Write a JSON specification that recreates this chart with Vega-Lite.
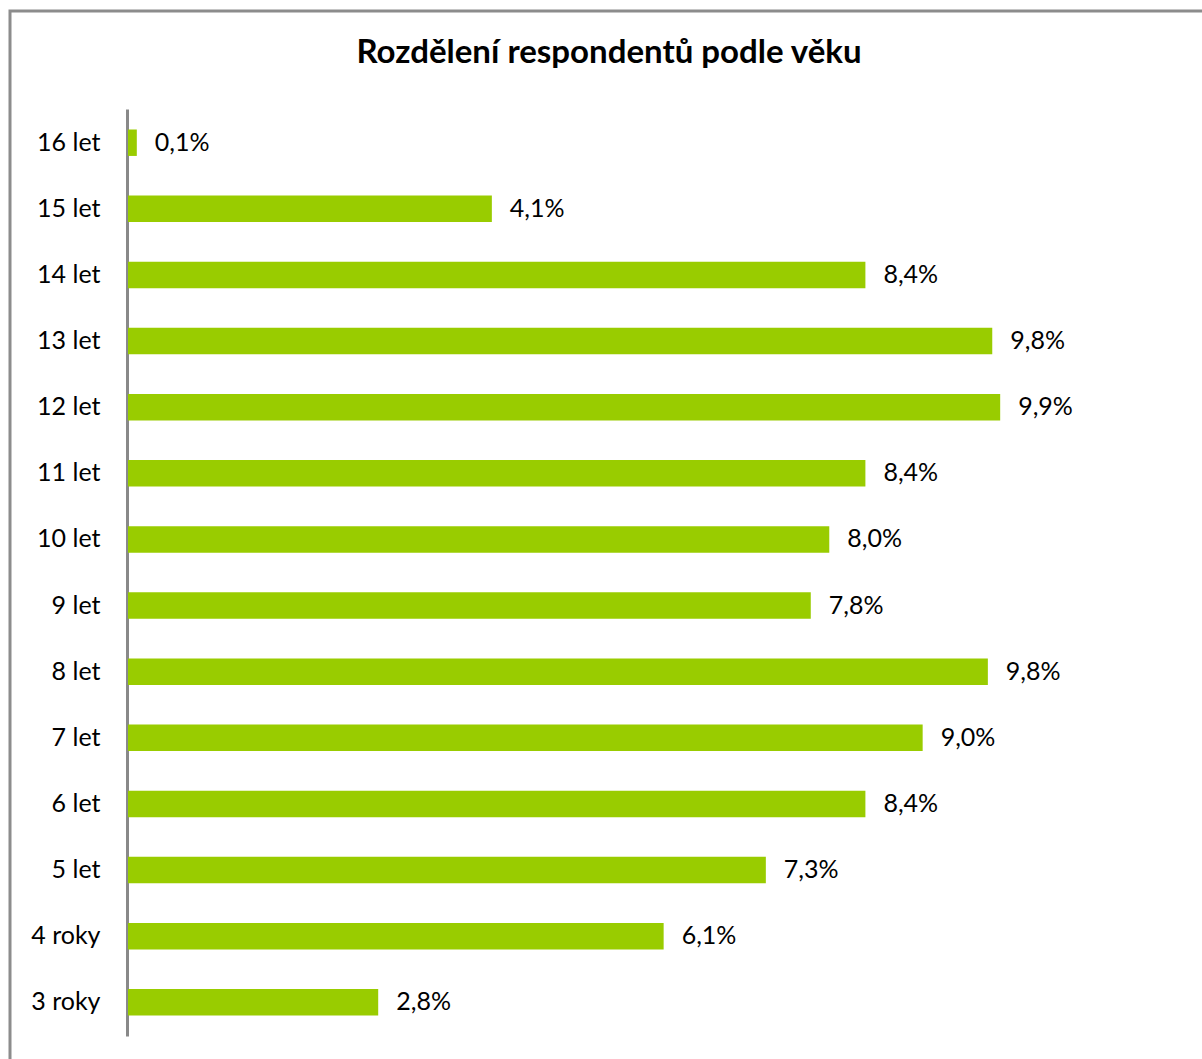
{
  "$schema": "https://vega.github.io/schema/vega-lite/v6.json",
  "width": 1198,
  "height": 1054,
  "autosize": {"type": "none"},
  "padding": {"left": 10, "top": 11, "right": -6, "bottom": -6},
  "background": "white",
  "config": {
    "view": {"stroke": "#8c8c8c", "strokeWidth": 3},
    "font": "Lato"
  },
  "title": {
    "text": "Rozdělení respondentů podle věku",
    "font": "Lato",
    "fontSize": 33,
    "fontWeight": "bold",
    "color": "#000000",
    "anchor": "middle",
    "baseline": "alphabetic",
    "offset": -85
  },
  "data": {
    "values": [
      {"vek": "16 let", "podil": 0.1, "label": "0,1%"},
      {"vek": "15 let", "podil": 4.13, "label": "4,1%"},
      {"vek": "14 let", "podil": 8.37, "label": "8,4%"},
      {"vek": "13 let", "podil": 9.81, "label": "9,8%"},
      {"vek": "12 let", "podil": 9.9, "label": "9,9%"},
      {"vek": "11 let", "podil": 8.37, "label": "8,4%"},
      {"vek": "10 let", "podil": 7.96, "label": "8,0%"},
      {"vek": "9 let", "podil": 7.75, "label": "7,8%"},
      {"vek": "8 let", "podil": 9.76, "label": "9,8%"},
      {"vek": "7 let", "podil": 9.02, "label": "9,0%"},
      {"vek": "6 let", "podil": 8.37, "label": "8,4%"},
      {"vek": "5 let", "podil": 7.24, "label": "7,3%"},
      {"vek": "4 roky", "podil": 6.08, "label": "6,1%"},
      {"vek": "3 roky", "podil": 2.84, "label": "2,8%"}
    ]
  },
  "encoding": {
    "y": {
      "field": "vek",
      "type": "nominal",
      "sort": null,
      "scale": {"range": [98, 1025], "paddingInner": 0.6, "paddingOuter": 0.31},
      "axis": {
        "title": null,
        "ticks": false,
        "offset": -117,
        "domainColor": "#898989",
        "domainWidth": 3,
        "labelFont": "Lato",
        "labelFontSize": 25,
        "labelColor": "#000000",
        "labelPadding": 27,
        "grid": false
      }
    },
    "x": {
      "field": "podil",
      "type": "quantitative",
      "scale": {"domain": [0, 10], "range": [118, 999], "nice": false, "zero": true},
      "axis": null
    }
  },
  "layer": [
    {"mark": {"type": "bar", "color": "#99CC00"}},
    {
      "mark": {"type": "text", "align": "left", "baseline": "middle", "dx": 18, "font": "Lato", "fontSize": 25, "color": "#000000"},
      "encoding": {"text": {"field": "label"}}
    }
  ]
}
